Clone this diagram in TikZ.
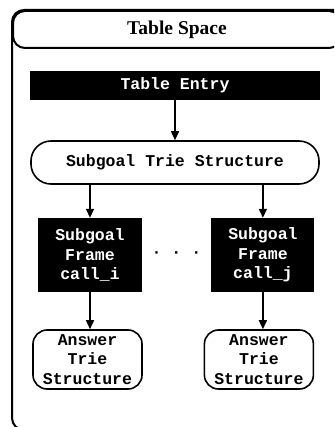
\documentclass[tikz,border=0pt]{standalone}
\usepackage{fontspec}
\setmonofont{Liberation Mono}
\newfontfamily\titlefont{Liberation Serif}
\usetikzlibrary{positioning, calc, arrows.meta}

\begin{document}
\begin{tikzpicture}[
    x=1pt, y=1pt,
    node distance=40pt and 70pt,
    code/.style={font=\fontsize{16.5}{19.5}\selectfont\ttfamily\bfseries, align=center, inner sep=0pt},
    dark/.style={code, rectangle, fill=black, text=white},
    roundbox/.style={code, rectangle, draw=black, line width=1.6pt, rounded corners=14pt, fill=white},
    arrow/.style={-{Triangle[length=9pt, width=8pt]}, line width=1.6pt}
]

\path[use as bounding box, clip] (0,0) rectangle (334,-427);

% Table Space
\draw[line width=2pt, rounded corners=12pt] (12,-10) rectangle (346,-430);
\node[draw, line width=2pt, rounded corners=12pt, minimum width=328pt, minimum height=37pt, anchor=north west, font=\titlefont\bfseries\fontsize{19.5}{22}\selectfont] (space) at (12,-10) {Table Space};

% Entrada
\node[dark, minimum width=290pt, minimum height=29pt] (entry) at (175,-85.5) {Table Entry};
\node[roundbox, rounded corners=20pt, minimum width=288pt, minimum height=43pt, below=40pt of entry] (trie) {Subgoal Trie Structure};

% Frames
\node[dark, minimum width=104pt, minimum height=74pt, below=33pt of trie, xshift=-85pt] (lframe) {Subgoal\\Frame\\call\_i};
\node[dark, minimum width=103pt, minimum height=74pt, right=69pt of lframe] (rframe) {Subgoal\\Frame\\call\_j};
\node[code] (dots) at ($(lframe)!0.5!(rframe)$) {· · ·};

% Answers
\node[roundbox, minimum width=109pt, minimum height=59pt, below=37pt of lframe, xshift=-2.5pt] (lanswer) {Answer\\Trie\\Structure};
\node[roundbox, minimum width=109pt, minimum height=59pt, below=37pt of rframe, xshift=-4pt] (ranswer) {Answer\\Trie\\Structure};

% Flechas
\draw[arrow] (entry) -- (trie);
\draw[arrow] (trie.south -| lframe) -- (lframe);
\draw[arrow] (trie.south -| rframe) -- (rframe);
\draw[arrow] (lframe) -- (lframe |- lanswer.north);
\draw[arrow] (rframe) -- (rframe |- ranswer.north);

\end{tikzpicture}
\end{document}
